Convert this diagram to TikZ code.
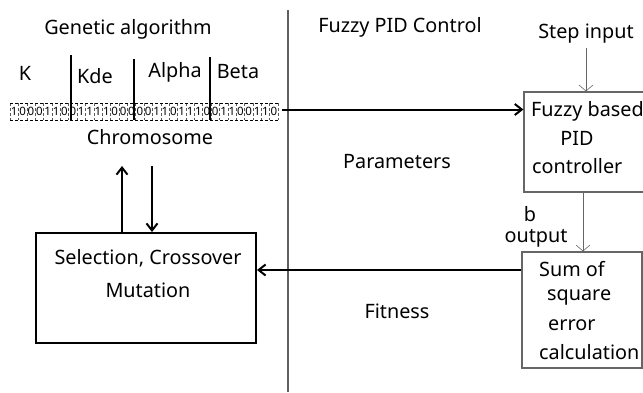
\documentclass[tikz,border=0pt]{standalone}
\usepackage{fontspec}
\setmainfont{Noto Sans}
\usetikzlibrary{arrows.meta}
\begin{document}
\begin{tikzpicture}[x=1pt,y=-1pt,
  txt/.style={inner sep=0pt,font=\fontsize{19.8}{22}\selectfont},
  bit/.style={inner sep=0pt,font=\fontsize{11.5}{12}\selectfont},
  sepbar/.style={line width=2pt},
  thickarrow/.style={line width=2pt,-{Straight Barb[length=7pt,width=11pt,line width=2pt]}},
  thinarrow/.style={draw=gray!80!black,line width=0.8pt,-{Straight Barb[length=6pt,width=14pt,line width=0.6pt]}},
  greybox/.style={draw=gray!80!black,line width=1.2pt,inner sep=0pt},
  blackbox/.style={draw=black,line width=2pt,inner sep=0pt}]
\useasboundingbox (0,0) rectangle (643,392);
% divider
\draw[gray!75!black,line width=1.4pt] (288,10) -- (288,392);
% titles
\node[txt] (ga) at (128,29) {Genetic algorithm};
\node[txt] (fpc) at (400,27) {Fuzzy PID Control};
\node[txt] (step) at (586,34) {Step input};
% gene labels
\node[txt] (lk) at (25,73) {K};
\node[txt] (lkde) at (95,76) {Kde};
\node[txt] (lalpha) at (175,72) {Alpha};
\node[txt] (lbeta) at (238,72) {Beta};
% chromosome
\def\cw{8.375}
\foreach \b [count=\i from 0] in {1,0,0,0,1,1,0,0,1,1,1,1,0,0,0,0,0,1,1,0,1,1,1,0,0,1,1,0,0,1,1,0}{
  \node[bit] (c\i) at ({10+\cw*(\i+0.5)},111.5) {\b};
  \draw[densely dashed,gray!70!black,line width=0.4pt] ({10+\cw*\i},103) -- ({10+\cw*\i},120);
}
\draw[densely dashed,line width=0.5pt] (10,103) -- (278,103);
\draw[densely dashed,line width=0.5pt] (10,120) -- (278,120);
\draw[densely dashed,gray!70!black,line width=0.4pt] (278,103) -- (278,120);
\draw[sepbar] (71,55) -- (71,120);
\draw[sepbar] (134,59) -- (134,120);
\draw[sepbar] (210,57) -- (210,120);
\coordinate (chrR) at (282,109.5);
\node[txt] (chromo) at (150,137) {Chromosome};
% fuzzy box
\node[greybox,minimum width=130pt,minimum height=100pt] (fz) at (589,142) {};
\node[txt,anchor=west] (fz1) at (531,111) {Fuzzy based};
\node[txt] (fz2) at (577,138) {PID};
\node[txt,anchor=west] (fz3) at (532,166) {controller};
% sum box
\node[greybox,minimum width=120pt,minimum height=116pt] (sum) at (582,310) {};
\node[txt,anchor=west] (s1) at (539,269) {Sum of};
\node[txt,anchor=west] (s2) at (547,297) {square};
\node[txt,anchor=west] (s3) at (548,325) {error};
\node[txt,anchor=west] (s4) at (539,352) {calculation};
\node[txt] (lb) at (530,214) {b};
\node[txt] (lout) at (536,238) {output};
% selection box
\node[blackbox,minimum width=220pt,minimum height=110pt] (sel) at (146,288) {};
\node[txt] (sel1) at (148,258) {Selection, Crossover};
\node[txt] (sel2) at (148,290) {Mutation};
% middle labels
\node[txt] (par) at (397,162) {Parameters};
\node[txt] (fit) at (397,311) {Fitness};
% connectors
\draw[thickarrow] (chrR) -- (fz.west |- chrR);
\draw[thinarrow] (586,48) -- (fz.north -| 586,0);
\draw[thinarrow] (fz.south -| 583,0) -- (sum.north -| 583,0);
\coordinate (sumL) at (sum.west |- 0,270);
\draw[thickarrow] (sumL) -- (sel.east |- sumL);
\draw[thickarrow] (sel.north -| 122,0) -- (122,166);
\coordinate (dnTop) at (152,166);
\draw[thickarrow] (dnTop) -- (sel.north -| dnTop);
\end{tikzpicture}
\end{document}
